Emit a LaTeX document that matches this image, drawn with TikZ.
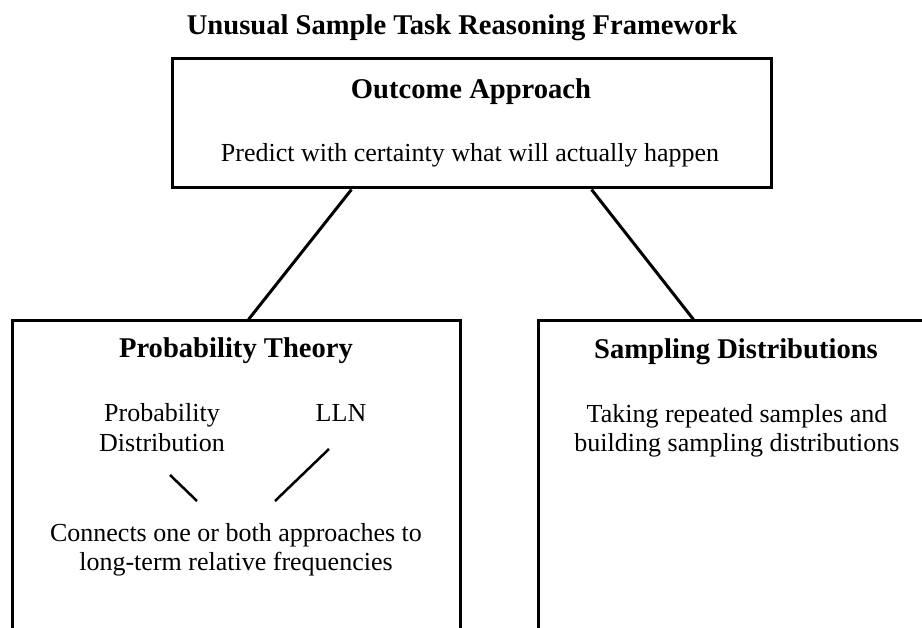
\documentclass[tikz,border=0pt]{standalone}
\usepackage{fontspec}
\setmainfont{Liberation Serif}
\usetikzlibrary{calc}
\tikzset{
  box/.style={draw=black, line width=3pt, rectangle, inner sep=0pt, fill=none},
  conn/.style={draw=black, line width=3pt},
  small/.style={draw=black, line width=2.5pt},
  head/.style={inner sep=0pt, anchor=base, font=\fontsize{28.6}{32}\selectfont\bfseries},
  body/.style={inner sep=0pt, anchor=base, font=\fontsize{26}{29.5}\selectfont},
}
\begin{document}
\begin{tikzpicture}[x=1pt,y=-1pt]
\useasboundingbox (0,0) rectangle (922,628);
\fill[white] (0,0) rectangle (922,628);
\clip (0,0) rectangle (922,628);
% title
\node[head] (title) at (462,35) {Unusual Sample Task Reasoning Framework};
% top box
\node[box, minimum width=599pt, minimum height=129pt] (top) at (471.5,123.5) {};
\node[head] (oa) at (471,99) {Outcome Approach};
\node[body] (oatext) at (470,162) {Predict with certainty what will actually happen};
% bottom boxes
\node[box, minimum width=448pt, minimum height=400pt] (pt) at (236,521) {};
\node[box, minimum width=452pt, minimum height=400pt] (sd) at (764,521) {};
% connectors
\draw[conn] ([xshift=181pt]top.south west) -- ([xshift=238pt]pt.north west);
\draw[conn] ([xshift=421pt]top.south west) -- ([xshift=157pt]sd.north west);
% probability theory contents
\node[head] (pth) at (236,358) {Probability Theory};
\node[body] (pd1) at (162,422) {Probability};
\node[body] (pd2) at (162,452) {Distribution};
\node[body] (lln) at (341,422) {LLN};
\node[body] (con1) at (236,541) {Connects one or both approaches to};
\node[body] (con2) at (236,570) {long-term relative frequencies};
\coordinate (a1) at (170,475);
\coordinate (a2) at (197,501);
\coordinate (b1) at (329,449);
\coordinate (b2) at (275,501);
\draw[small] (a1) -- (a2);
\draw[small] (b1) -- (b2);
% sampling distributions contents
\node[head] (sdh) at (736,359) {Sampling Distributions};
\node[body] (sd1) at (737,423) {Taking repeated samples and};
\node[body] (sd2) at (737,452) {building sampling distributions};
\end{tikzpicture}
\end{document}
